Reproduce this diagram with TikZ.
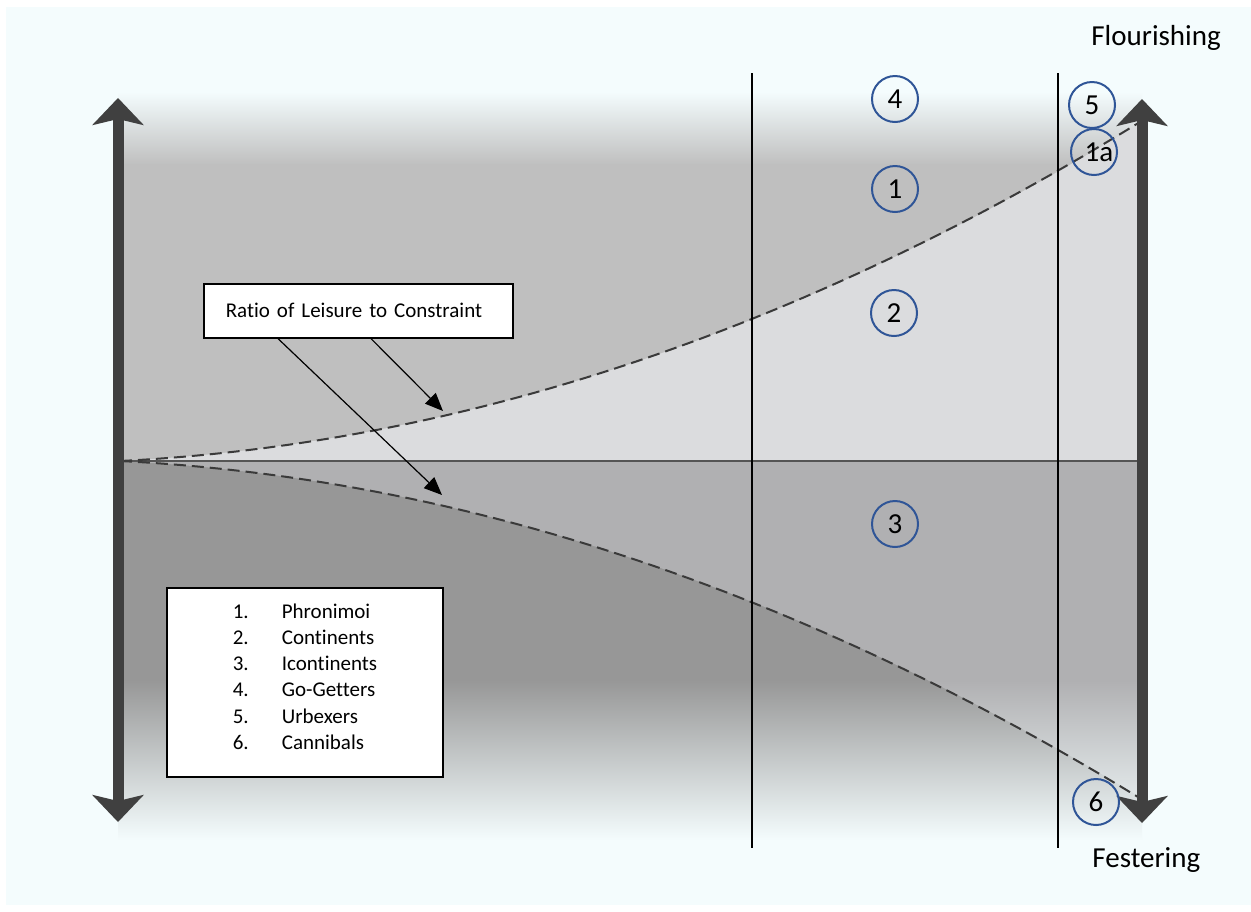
\documentclass[tikz,border=0pt]{standalone}
\usepackage{fontspec}
\setmainfont{Carlito}[Ligatures=NoCommon]
\usetikzlibrary{arrows.meta}

\definecolor{canvas}{RGB}{244,252,253}
\definecolor{upgray}{RGB}{191,191,191}
\definecolor{wedgeup}{RGB}{219,220,222}
\definecolor{lowgray}{RGB}{151,151,151}
\definecolor{wedgelow}{RGB}{176,176,178}
\definecolor{axisgray}{RGB}{64,64,64}
\definecolor{ringblue}{RGB}{47,85,151}
\definecolor{dashgray}{RGB}{58,58,58}
\definecolor{midline}{RGB}{85,85,85}

\begin{document}
\begin{tikzpicture}[x=0.5pt,y=-0.5pt,
  axisarrow/.style={draw=axisgray, line width=5.5pt,
    {Stealth[length=13.5pt,width=25.5pt,inset=3pt]}-{Stealth[length=13.5pt,width=25.5pt,inset=3pt]}},
  divider/.style={draw=black, line width=1pt},
  midaxis/.style={draw=midline, line width=1pt},
  ratiocurve/.style={draw=dashgray, line width=1pt, dash pattern=on 6pt off 3pt},
  ring/.style={circle, draw=ringblue, line width=1pt, minimum size=23pt, inner sep=0pt,
    font=\fontsize{14.5}{17}\selectfont},
  bigtext/.style={inner sep=0pt, font=\fontsize{14.5}{17}\selectfont},
  callout/.style={draw=black, fill=white, line width=0.8pt, font=\fontsize{10.5}{13}\selectfont,
    text width=132.5pt, align=left, inner xsep=11pt, inner ysep=0pt, minimum height=27pt},
  legendbox/.style={draw=black, fill=white, line width=1pt, minimum width=138pt,
    minimum height=94.5pt, inner sep=0pt, font=\fontsize{10.5}{13.1}\selectfont},
  pointer/.style={draw=black, line width=0.6pt, -{Triangle[length=9pt,width=7.5pt]}}
]
\useasboundingbox (0,0) rectangle (1251,911);

% canvas
\fill[white] (0,0) rectangle (1251,911);
\fill[canvas] (6,7) rectangle (1251,905);

% upper field, fading in from the top
\shade[top color=canvas, bottom color=upgray] (118,92) rectangle (1142,165);
\fill[upgray] (118,164) rectangle (1142,461);
% upper wedge between the curve and the mid axis
\fill[wedgeup] plot[domain=0:1, samples=80]
  ({120+1022*\x},{461-339*(0.15*\x+0.85*\x*\x)}) -- (1142,461) -- cycle;

% lower field, fading out towards the bottom
\fill[lowgray] (118,461) rectangle (1142,681);
\shade[top color=lowgray, bottom color=canvas] (118,680) rectangle (1142,840);
\begin{scope}
  \clip plot[domain=0:1, samples=80]
    ({120+1020*\x},{461+336*(0.15*\x+0.85*\x*\x)}) -- (1142,461) -- cycle;
  \fill[wedgelow] (118,461) rectangle (1142,681);
  \shade[top color=wedgelow, bottom color=canvas] (118,680) rectangle (1142,840);
\end{scope}

% mid axis and ratio curves
\draw[midaxis] (120,461) -- (1140,461);
\draw[ratiocurve] plot[domain=0:1, samples=80]
  ({120+1020*\x},{461-339*(0.15*\x+0.85*\x*\x)});
\draw[ratiocurve] plot[domain=0:1, samples=80]
  ({120+1018*\x},{461+336*(0.15*\x+0.85*\x*\x)});

% dividers
\draw[divider] (752,73) -- (752,848);
\draw[divider] (1058,73) -- (1058,848);

% vertical axes
\coordinate (ltop) at (118,98);
\coordinate (lbot) at (118,822);
\coordinate (rtop) at (1142,99);
\coordinate (rbot) at (1142,823);
\draw[axisarrow] (ltop) -- (lbot);
\draw[axisarrow] (rtop) -- (rbot);

% group markers
\node[ring] (c4) at (895,99) {4};
\node[ring] (c1) at (895,189) {1};
\node[ring] (c2) at (894,313) {2};
\node[ring] (c3) at (895,524) {3};
\node[ring] (c5) at (1092,105) {5};
\node[ring] (c1a) at (1094,152) {\hspace*{5pt}1a};
\node[ring] (c6) at (1096,802) {6};

% pole labels
\node[bigtext, anchor=base west] (flour) at (1091,45) {Flourishing};
\node[bigtext, anchor=base west] (fest) at (1092,867) {Festering};

% callout
\node[callout, anchor=north west] (ratio) at (203,283) {Ratio of Leisure to Constraint};
\coordinate (tipA) at (443,411);
\coordinate (tipB) at (442,495);
\draw[pointer] ([xshift=84pt]ratio.south west) -- (tipA);
\draw[pointer] ([xshift=37.5pt]ratio.south west) -- (tipB);

% legend
\node[legendbox, anchor=north west] (legend) at (166,587) {%
  \raisebox{0pt}[\height][\dimexpr\depth+4pt\relax]{\begin{tabular}{@{}p{24.5pt}@{}l@{}}
  1. & Phronimoi\\
  2. & Continents\\
  3. & Icontinents\\
  4. & Go-Getters\\
  5. & Urbexers\\
  6. & Cannibals
  \end{tabular}}};
\end{tikzpicture}
\end{document}
